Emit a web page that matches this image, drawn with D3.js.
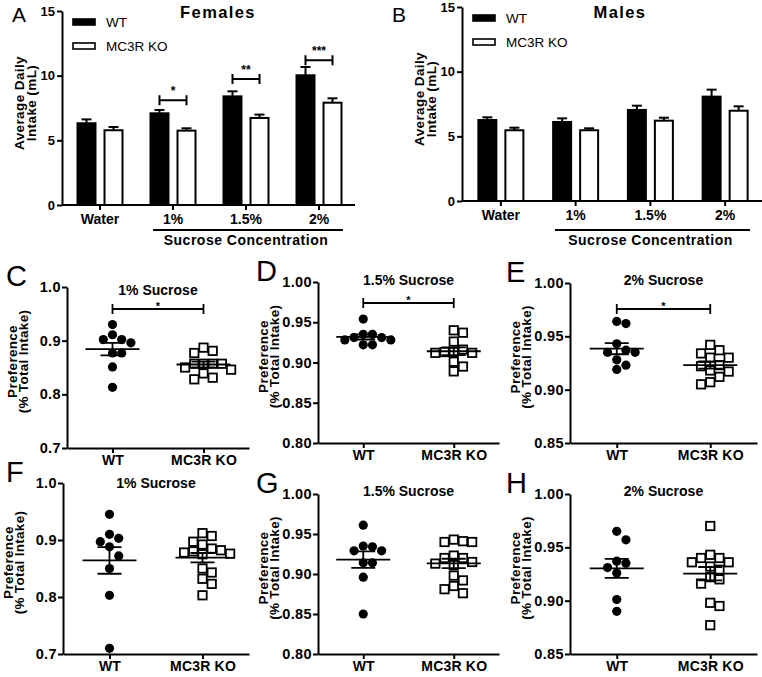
<!DOCTYPE html>
<html><head><meta charset="utf-8">
<script src="https://cdn.jsdelivr.net/npm/d3@7"></script>
<style>
body{margin:0;background:#fff}
text{font-family:Arial,"Liberation Sans",Helvetica,sans-serif;fill:#000}
</style></head>
<body><svg id="fig" width="762" height="677"></svg>
<script>
// ---------- DATA ----------
const barCategories = ["Water", "1%", "1.5%", "2%"];
const barSeries = ["WT", "MC3R KO"];
const barTicks = [0, 5, 10, 15];
const femaleWT = [6.32, 7.09, 8.40, 10.03];
const femaleWTerr = [0.30, 0.26, 0.39, 0.64];
const femaleKO = [5.78, 5.75, 6.73, 7.91];
const femaleKOerr = [0.25, 0.18, 0.26, 0.34];
const femaleSig = ["", "*", "**", "***"];
const femaleSigLevel = [0, 8.1, 9.75, 11.2];
const maleWT = [6.26, 6.11, 7.04, 8.07];
const maleWTerr = [0.21, 0.28, 0.33, 0.54];
const maleKO = [5.47, 5.47, 6.21, 6.98];
const maleKOerr = [0.20, 0.15, 0.23, 0.34];

const groups = ["WT", "MC3R KO"];
// preference scatter data (fraction of total intake)
const cWT = [0.930, 0.911, 0.902, 0.902, 0.896, 0.877, 0.877, 0.851, 0.813];
const cKO = [0.887, 0.881, 0.877, 0.857, 0.857, 0.857, 0.857, 0.850, 0.846, 0.839, 0.831, 0.828];
const dWT = [0.954, 0.935, 0.935, 0.931, 0.931, 0.928, 0.928, 0.922, 0.922];
const dKO = [0.940, 0.937, 0.926, 0.916, 0.913, 0.913, 0.912, 0.912, 0.901, 0.895, 0.889];
const eWT = [0.964, 0.962, 0.943, 0.937, 0.935, 0.935, 0.928, 0.923, 0.919];
const eKO = [0.942, 0.937, 0.934, 0.930, 0.930, 0.923, 0.922, 0.918, 0.917, 0.912, 0.907, 0.905];
const fWT = [0.945, 0.910, 0.903, 0.897, 0.888, 0.872, 0.850, 0.803, 0.710];
const fKO = [0.912, 0.907, 0.897, 0.892, 0.885, 0.882, 0.880, 0.878, 0.876, 0.875, 0.850, 0.843, 0.832, 0.823, 0.803];
const gWT = [0.961, 0.935, 0.934, 0.929, 0.929, 0.914, 0.914, 0.896, 0.850];
const gKO = [0.943, 0.941, 0.940, 0.940, 0.923, 0.920, 0.920, 0.915, 0.913, 0.911, 0.898, 0.892, 0.885, 0.881, 0.876];
const hWT = [0.965, 0.957, 0.937, 0.935, 0.931, 0.926, 0.901, 0.890];
const hKO = [0.970, 0.943, 0.940, 0.940, 0.936, 0.936, 0.932, 0.929, 0.922, 0.920, 0.916, 0.898, 0.895, 0.877];
const ticks01 = [0.7, 0.8, 0.9, 1.0];
const ticks80 = [0.80, 0.85, 0.90, 0.95, 1.00];
const ticks85 = [0.85, 0.90, 0.95, 1.00];

// ---------- DRAW ----------
const svg = d3.select("#fig");
const mean = a => d3.mean(a);
const sem = a => d3.deviation(a) / Math.sqrt(a.length);
const FONT = "Arial, 'Liberation Sans', sans-serif";

function styleAxis(a, size, ls) {
  a.selectAll("path,line").attr("stroke", "#000").attr("stroke-width", 2);
  a.selectAll("text").attr("font-size", size).attr("font-weight", "bold")
    .attr("font-family", FONT).attr("fill", "#000").attr("letter-spacing", ls || 0);
}

function barPanel(o) {
  const g = svg.append("g");
  const x = d3.scaleBand().domain(barCategories).range([o.x0 + 1.5, o.x1 + 0.5]);
  const xs = d3.scaleBand().domain(barSeries).range([-23.5, 23.5]).paddingInner(0.26);
  const y = d3.scaleLinear().domain([0, 15]).range([o.yb, o.yt]);
  const ya = g.append("g").attr("transform", `translate(${o.x0},0)`)
    .call(d3.axisLeft(y).tickValues(barTicks).tickSize(5).tickSizeOuter(0).tickPadding(2));
  const xa = g.append("g").attr("transform", `translate(0,${o.yb})`)
    .call(d3.axisBottom(x).tickSize(5).tickSizeOuter(0).tickPadding(4));
  styleAxis(ya, 13);
  styleAxis(xa, 14);
  xa.select(".domain").attr("d", `M${o.x0},0H${o.x1}`);
  const series = [{k: "WT", v: o.wt, e: o.wtErr}, {k: "MC3R KO", v: o.ko, e: o.koErr}];
  series.forEach(s => {
    const bw = xs.bandwidth();
    s.v.forEach((v, i) => {
      const cx = x(barCategories[i]) + x.bandwidth() / 2 + xs(s.k) + bw / 2;
      const top = y(v), etop = y(v + s.e[i]);
      g.append("line").attr("x1", cx).attr("x2", cx).attr("y1", top).attr("y2", etop)
        .attr("stroke", "#000").attr("stroke-width", 2);
      g.append("line").attr("x1", cx - 5).attr("x2", cx + 5).attr("y1", etop).attr("y2", etop)
        .attr("stroke", "#000").attr("stroke-width", 2);
      g.append("rect").attr("x", cx - bw / 2 + 1).attr("y", top).attr("width", bw - 2)
        .attr("height", o.yb - top).attr("fill", s.k === "WT" ? "#000" : "#fff")
        .attr("stroke", "#000").attr("stroke-width", 2);
    });
  });
  if (o.sig) {
    o.sig.forEach((s, i) => {
      if (!s) return;
      const c = x(barCategories[i]) + x.bandwidth() / 2;
      const x1 = c + xs("WT") + xs.bandwidth() / 2, x2 = c + xs("MC3R KO") + xs.bandwidth() / 2;
      const yy = y(o.sigLevel[i]);
      g.append("path").attr("d", `M${x1},${yy - 5}V${yy + 5}M${x1},${yy}H${x2}M${x2},${yy - 5}V${yy + 5}`)
        .attr("stroke", "#000").attr("stroke-width", 2).attr("fill", "none");
      g.append("text").attr("x", (x1 + x2) / 2).attr("y", yy - 5).attr("text-anchor", "middle")
        .attr("font-size", 12).attr("font-weight", "bold").text(s);
    });
  }
  barSeries.forEach((s, i) => {
    const ly = o.legY + i * 24;
    g.append("rect").attr("x", o.x0 + 11).attr("y", ly - 3).attr("width", 22).attr("height", 6)
      .attr("fill", i ? "#fff" : "#000").attr("stroke", "#000").attr("stroke-width", 1.6);
    g.append("text").attr("x", o.x0 + 44).attr("y", ly + 5).attr("font-size", 13.5).text(s);
  });
  g.append("text").attr("x", o.titleX).attr("y", 18).attr("text-anchor", "middle")
    .attr("font-size", 16.5).attr("font-weight", "bold").attr("letter-spacing", 1.4).text(o.title);
  const yl = g.append("text").attr("transform", `translate(${o.x0 - 38},${(o.yt + o.yb) / 2 - 5}) rotate(-90)`)
    .attr("text-anchor", "middle").attr("font-size", 13.5).attr("font-weight", "bold").attr("letter-spacing", 0.4);
  yl.append("tspan").attr("x", 0).attr("dy", 0).text("Average Daily");
  yl.append("tspan").attr("x", 0).attr("dy", 12).text("Intake (mL)");
  g.append("line").attr("x1", o.scX0).attr("x2", o.scX1).attr("y1", 230).attr("y2", 230)
    .attr("stroke", "#000").attr("stroke-width", 2);
  g.append("text").attr("x", (o.scX0 + o.scX1) / 2 - 2).attr("y", 245).attr("text-anchor", "middle")
    .attr("font-size", 14).attr("font-weight", "bold").attr("letter-spacing", 0.5).text("Sucrose Concentration");
  g.append("text").attr("x", o.letterX).attr("y", 22).attr("font-size", 21).text(o.letter);
}

function swarm(values, y, r, step) {
  const placed = [];
  return values.map(v => {
    const py = y(v);
    let off = 0;
    for (let i = 0; i < 60; i++) {
      off = i === 0 ? 0 : (i % 2 ? 1 : -1) * Math.ceil(i / 2) * step;
      if (placed.every(p => Math.hypot(p.x - off, p.y - py) >= 2 * r)) break;
    }
    placed.push({x: off, y: py});
    return {v: v, x: off, y: py};
  });
}

function scatterPanel(o) {
  const g = svg.append("g");
  const x = d3.scalePoint().domain(groups).range([o.x0, o.x1]).padding(0.5);
  const y = d3.scaleLinear().domain(o.domain).range([o.yb, o.yt]);
  const ya = g.append("g").attr("transform", `translate(${o.x0},0)`)
    .call(d3.axisLeft(y).tickValues(o.ticks).tickFormat(d3.format(o.fmt)).tickSize(5).tickSizeOuter(0).tickPadding(1));
  const xa = g.append("g").attr("transform", `translate(0,${o.yb})`)
    .call(d3.axisBottom(x).tickSize(5).tickSizeOuter(0).tickPadding(2));
  styleAxis(ya, 14.5, 0.4);
  styleAxis(xa, 14, 0.2);
  [{k: "WT", a: o.wt}, {k: "MC3R KO", a: o.ko}].forEach(s => {
    const cx = x(s.k), m = mean(s.a), se = sem(s.a);
    const pts = swarm(s.a, y, 4.6, 9.2);
    pts.forEach(p => {
      if (s.k === "WT") {
        g.append("circle").attr("cx", cx + p.x).attr("cy", p.y).attr("r", 4.6).attr("fill", "#000");
      } else {
        g.append("rect").attr("x", cx + p.x - 4.2).attr("y", p.y - 4.2).attr("width", 8.4).attr("height", 8.4)
          .attr("fill", "#fff").attr("stroke", "#000").attr("stroke-width", 1.8);
      }
    });
    g.append("path").attr("d",
      `M${cx - 27},${y(m)}H${cx + 27}M${cx},${y(m - se)}V${y(m + se)}M${cx - 12},${y(m - se)}H${cx + 12}M${cx - 12},${y(m + se)}H${cx + 12}`)
      .attr("stroke", "#000").attr("stroke-width", 1.8).attr("fill", "none");
  });
  if (o.sigY) {
    const x1 = x("WT"), x2 = x("MC3R KO"), yy = o.sigY;
    g.append("path").attr("d", `M${x1},${yy - 5}V${yy + 5}M${x1},${yy}H${x2}M${x2},${yy - 5}V${yy + 5}`)
      .attr("stroke", "#000").attr("stroke-width", 1.8).attr("fill", "none");
    g.append("text").attr("x", (x1 + x2) / 2).attr("y", yy + 1).attr("text-anchor", "middle")
      .attr("font-size", 11).attr("font-weight", "bold").text("*");
  }
  g.append("text").attr("x", (x("WT") + x("MC3R KO")) / 2).attr("y", o.titleY).attr("text-anchor", "middle")
    .attr("font-size", 14).attr("font-weight", "bold").text(o.title);
  const yl = g.append("text").attr("transform", `translate(${o.x0 - 50},${(o.yt + o.yb) / 2 - 6}) rotate(-90)`)
    .attr("text-anchor", "middle").attr("font-size", 13.5).attr("font-weight", "bold").attr("letter-spacing", 0.3);
  yl.append("tspan").attr("x", 0).attr("dy", 0).text("Preference");
  yl.append("tspan").attr("x", 0).attr("dy", 11).text("(% Total Intake)");
  g.append("text").attr("x", o.letterX).attr("y", o.yt - 1).attr("font-size", 29).text(o.letter);
}

barPanel({x0: 62, x1: 355, yb: 205, yt: 11, wt: femaleWT, wtErr: femaleWTerr, ko: femaleKO, koErr: femaleKOerr,
  sig: femaleSig, sigLevel: femaleSigLevel, legY: 22, title: "Females", titleX: 218, scX0: 153, scX1: 343, letter: "A", letterX: 12});
barPanel({x0: 462, x1: 762, yb: 201, yt: 7, wt: maleWT, wtErr: maleWTerr, ko: maleKO, koErr: maleKOerr,
  legY: 18, title: "Males", titleX: 620, scX0: 555, scX1: 750, letter: "B", letterX: 392});

scatterPanel({letter: "C", letterX: 6, title: "1% Sucrose", titleY: 295, x0: 67, x1: 249, yt: 287, yb: 448,
  domain: [0.7, 1.0], ticks: ticks01, fmt: ".1f", wt: cWT, ko: cKO, sigY: 309});
scatterPanel({letter: "D", letterX: 256, title: "1.5% Sucrose", titleY: 285, x0: 318, x1: 499, yt: 282, yb: 443,
  domain: [0.8, 1.0], ticks: ticks80, fmt: ".2f", wt: dWT, ko: dKO, sigY: 303});
scatterPanel({letter: "E", letterX: 506, title: "2% Sucrose", titleY: 285, x0: 570, x1: 757, yt: 283, yb: 443,
  domain: [0.85, 1.0], ticks: ticks85, fmt: ".2f", wt: eWT, ko: eKO, sigY: 309});
scatterPanel({letter: "F", letterX: 6, title: "1% Sucrose", titleY: 488, x0: 63, x1: 249, yt: 483, yb: 654,
  domain: [0.7, 1.0], ticks: ticks01, fmt: ".1f", wt: fWT, ko: fKO});
scatterPanel({letter: "G", letterX: 256, title: "1.5% Sucrose", titleY: 496, x0: 318, x1: 499, yt: 494, yb: 654,
  domain: [0.8, 1.0], ticks: ticks80, fmt: ".2f", wt: gWT, ko: gKO});
scatterPanel({letter: "H", letterX: 506, title: "2% Sucrose", titleY: 496, x0: 570, x1: 757, yt: 494, yb: 654,
  domain: [0.85, 1.0], ticks: ticks85, fmt: ".2f", wt: hWT, ko: hKO});
</script></body></html>
